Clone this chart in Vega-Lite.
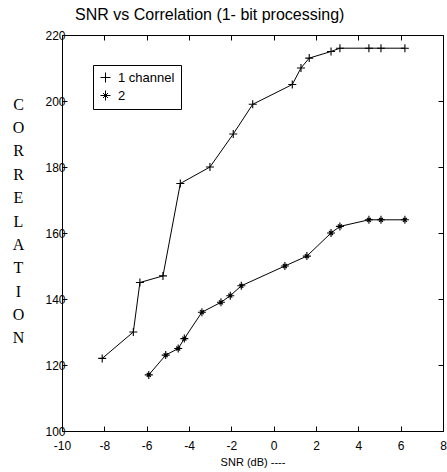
{
  "$schema": "https://vega.github.io/schema/vega-lite/v6.json",
  "autosize": {"type": "none"},
  "padding": {"left": 62, "top": 35, "right": 4, "bottom": 41},
  "width": 381,
  "height": 396,
  "background": "white",
  "title": {
    "text": "SNR vs Correlation (1- bit processing)",
    "anchor": "start",
    "frame": "group",
    "dx": 13,
    "offset": 6,
    "font": "Liberation Sans",
    "fontSize": 16,
    "fontWeight": "normal",
    "color": "black"
  },
  "config": {
    "view": {"stroke": null},
    "axis": {
      "grid": false,
      "domainColor": "black",
      "domainWidth": 1,
      "tickColor": "black",
      "tickSize": -5,
      "labelFont": "Liberation Sans",
      "labelFontSize": 12,
      "labelColor": "black",
      "titleFont": "Liberation Sans",
      "titleFontWeight": "normal",
      "titleColor": "black"
    }
  },
  "data": {
    "values": [
      {"series": "1 channel", "snr": -8.1, "corr": 122},
      {"series": "1 channel", "snr": -6.63, "corr": 130},
      {"series": "1 channel", "snr": -6.32, "corr": 145},
      {"series": "1 channel", "snr": -5.23, "corr": 147},
      {"series": "1 channel", "snr": -4.41, "corr": 175},
      {"series": "1 channel", "snr": -3.01, "corr": 180},
      {"series": "1 channel", "snr": -1.91, "corr": 190},
      {"series": "1 channel", "snr": -0.99, "corr": 199},
      {"series": "1 channel", "snr": 0.88, "corr": 205},
      {"series": "1 channel", "snr": 1.29, "corr": 210},
      {"series": "1 channel", "snr": 1.68, "corr": 213},
      {"series": "1 channel", "snr": 2.71, "corr": 215},
      {"series": "1 channel", "snr": 3.13, "corr": 216},
      {"series": "1 channel", "snr": 4.5, "corr": 216},
      {"series": "1 channel", "snr": 5.07, "corr": 216},
      {"series": "1 channel", "snr": 6.2, "corr": 216},
      {"series": "2", "snr": -5.9, "corr": 117},
      {"series": "2", "snr": -5.1, "corr": 123},
      {"series": "2", "snr": -4.51, "corr": 125},
      {"series": "2", "snr": -4.22, "corr": 128},
      {"series": "2", "snr": -3.39, "corr": 136},
      {"series": "2", "snr": -2.49, "corr": 139},
      {"series": "2", "snr": -2.05, "corr": 141},
      {"series": "2", "snr": -1.53, "corr": 144},
      {"series": "2", "snr": 0.53, "corr": 150},
      {"series": "2", "snr": 1.57, "corr": 153},
      {"series": "2", "snr": 2.71, "corr": 160},
      {"series": "2", "snr": 3.13, "corr": 162},
      {"series": "2", "snr": 4.5, "corr": 164},
      {"series": "2", "snr": 5.07, "corr": 164},
      {"series": "2", "snr": 6.2, "corr": 164}
    ]
  },
  "layer": [
    {
      "encoding": {
        "x": {
          "field": "snr", "type": "quantitative",
          "scale": {"domain": [-10, 8], "nice": false, "zero": false},
          "axis": {"values": [-10, -8, -6, -4, -2, 0, 2, 4, 6, 8], "labelExpr": "(datum.value < 0 ? '-' : '') + abs(datum.value)", "title": "SNR (dB) ----", "titleFontSize": 11, "labelPadding": 14, "titlePadding": 5, "labelFlush": false}
        },
        "y": {
          "field": "corr", "type": "quantitative",
          "scale": {"domain": [100, 220], "nice": false, "zero": false},
          "axis": {
            "values": [100, 120, 140, 160, 180, 200, 220],
            "labelPadding": 2,
            "title": ["C", "O", "R", "R", "E", "L", "A", "T", "I", "O", "N"],
            "titleAngle": 0,
            "titleFont": "Liberation Serif",
            "titleFontSize": 16,
            "titleLineHeight": 23.4,
            "titleAlign": "center",
            "titleBaseline": "alphabetic",
            "titleX": -44,
            "titleY": 74
          }
        }
      },
      "layer": [
        {
          "mark": {"type": "line", "color": "black", "strokeWidth": 1},
          "encoding": {"detail": {"field": "series"}}
        },
        {
          "mark": {"type": "point", "filled": false, "stroke": "black", "strokeWidth": 1.1, "opacity": 1, "size": 64},
          "encoding": {
            "shape": {
              "field": "series", "type": "nominal",
              "scale": {
                "domain": ["1 channel", "2"],
                "range": ["M-1,0H1M0,-1V1", "M-1,0H1M0,-1V1M-0.5,-0.5L0.5,0.5M-0.5,0.5L0.5,-0.5"]
              },
              "legend": {
                "orient": "none",
                "legendX": 31,
                "legendY": 30,
                "title": null,
                "strokeColor": "black",
                "fillColor": "white",
                "padding": 6,
                "rowPadding": 3,
                "labelFont": "Liberation Sans",
                "labelFontSize": 13,
                "labelColor": "black",
                "symbolSize": 100,
                "symbolStrokeColor": "black",
                "symbolStrokeWidth": 1,
                "labelOffset": 6,
                "encode": {
                  "symbols": {
                    "update": {
                      "shape": {"signal": "datum.value === '1 channel' ? 'M-2,0H2M0,-0.8V0.8' : 'M-2,0H2M0,-0.8V0.8M-0.45,-0.45L0.45,0.45M-0.45,0.45L0.45,-0.45'"},
                      "stroke": {"value": "black"},
                      "fill": {"value": "transparent"}
                    }
                  }
                }
              }
            }
          }
        }
      ]
    },
    {
      "mark": {"type": "point", "opacity": 0},
      "encoding": {
        "x": {"field": "snr", "type": "quantitative", "axis": {"orient": "top", "labels": false, "title": null, "values": [-10, -8, -6, -4, -2, 0, 2, 4, 6, 8]}},
        "y": {"field": "corr", "type": "quantitative", "axis": {"orient": "right", "labels": false, "title": null, "values": [100, 120, 140, 160, 180, 200, 220]}}
      }
    }
  ],
  "resolve": {"axis": {"x": "independent", "y": "independent"}}
}
